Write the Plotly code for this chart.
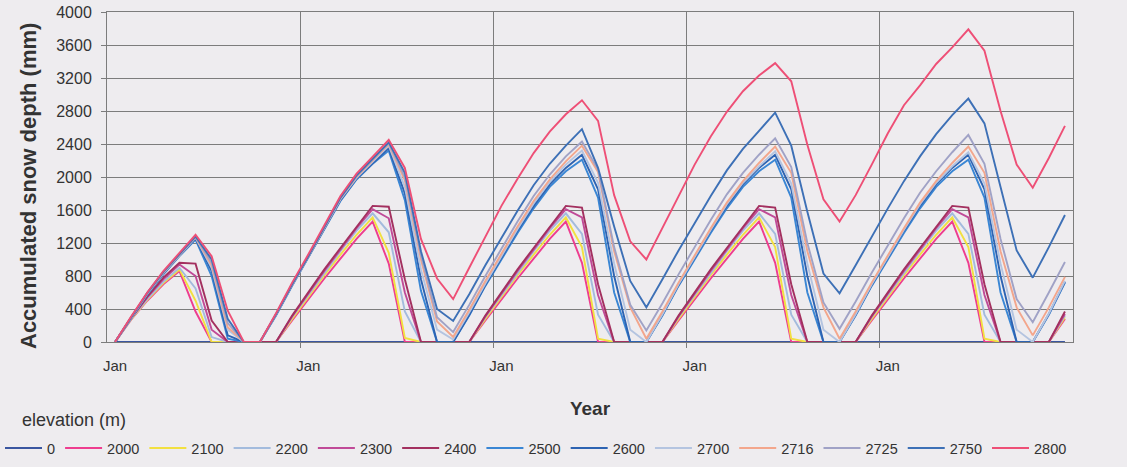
import plotly.graph_objects as go

# Month index from the first January (five years of monthly values)
month_index = list(range(60))
jan_ticks = [0, 12, 24, 36, 48]
jan_labels = ["Jan", "Jan", "Jan", "Jan", "Jan"]

elevations = ["0", "2000", "2100", "2200", "2300", "2400", "2500",
              "2600", "2700", "2716", "2725", "2750", "2800"]

# Accumulated snow depth (mm), one row of twelve months per year
depth_0 = [
    0, 0, 0, 0, 0, 0, 0, 0, 0, 0, 0, 0,
    0, 0, 0, 0, 0, 0, 0, 0, 0, 0, 0, 0,
    0, 0, 0, 0, 0, 0, 0, 0, 0, 0, 0, 0,
    0, 0, 0, 0, 0, 0, 0, 0, 0, 0, 0, 0,
    0, 0, 0, 0, 0, 0, 0, 0, 0, 0, 0, 0,
]
depth_2000 = [
    0, 270, 500, 700, 860, 370, 0, 0, 0, 0, 0, 260,
    520, 770, 1010, 1250, 1460, 950, 0, 0, 0, 0, 0, 260,
    520, 770, 1010, 1250, 1460, 960, 0, 0, 0, 0, 0, 260,
    520, 770, 1010, 1250, 1460, 960, 0, 0, 0, 0, 0, 260,
    520, 770, 1010, 1250, 1460, 960, 0, 0, 0, 0, 0, 280,
]
depth_2100 = [
    0, 275, 510, 715, 880, 500, 0, 0, 0, 0, 0, 280,
    550, 810, 1060, 1300, 1510, 1080, 50, 0, 0, 0, 0, 280,
    550, 810, 1060, 1300, 1510, 1150, 40, 0, 0, 0, 0, 280,
    550, 810, 1060, 1300, 1510, 1150, 40, 0, 0, 0, 0, 280,
    550, 810, 1060, 1300, 1510, 1150, 40, 0, 0, 0, 0, 300,
]
depth_2200 = [
    0, 280, 520, 730, 900, 650, 60, 0, 0, 0, 0, 300,
    570, 840, 1100, 1350, 1560, 1330, 370, 0, 0, 0, 0, 300,
    570, 840, 1100, 1350, 1560, 1310, 330, 0, 0, 0, 0, 300,
    570, 840, 1100, 1350, 1560, 1310, 330, 0, 0, 0, 0, 300,
    570, 840, 1100, 1350, 1560, 1310, 330, 0, 0, 0, 0, 320,
]
depth_2300 = [
    0, 285, 540, 760, 940, 800, 150, 0, 0, 0, 0, 310,
    590, 860, 1120, 1380, 1610, 1500, 600, 0, 0, 0, 0, 310,
    590, 860, 1120, 1380, 1610, 1510, 570, 0, 0, 0, 0, 310,
    590, 860, 1120, 1380, 1610, 1510, 570, 0, 0, 0, 0, 310,
    590, 860, 1120, 1380, 1610, 1510, 570, 0, 0, 0, 0, 340,
]
depth_2400 = [
    0, 290, 550, 780, 960, 950, 260, 0, 0, 0, 0, 320,
    600, 880, 1140, 1400, 1650, 1640, 760, 0, 0, 0, 0, 320,
    600, 880, 1140, 1400, 1650, 1630, 700, 0, 0, 0, 0, 320,
    600, 880, 1140, 1400, 1650, 1630, 700, 0, 0, 0, 0, 320,
    600, 880, 1140, 1400, 1650, 1630, 700, 0, 0, 0, 0, 370,
]
depth_2500 = [
    0, 295, 575, 820, 1040, 1240, 800, 40, 0, 0, 320, 680,
    1020, 1370, 1710, 1970, 2160, 2320, 1720, 620, 0, 0, 320, 680,
    1000, 1320, 1620, 1880, 2070, 2210, 1750, 600, 0, 0, 320, 680,
    1000, 1320, 1620, 1880, 2070, 2210, 1750, 600, 0, 0, 320, 680,
    1000, 1320, 1620, 1880, 2070, 2210, 1750, 600, 0, 0, 330, 720,
]
depth_2600 = [
    0, 300, 580, 830, 1050, 1255, 860, 80, 0, 0, 330, 690,
    1030, 1380, 1720, 1980, 2170, 2350, 1800, 760, 0, 0, 330, 690,
    1020, 1350, 1650, 1910, 2110, 2270, 1850, 800, 0, 0, 330, 690,
    1020, 1350, 1650, 1910, 2110, 2270, 1850, 800, 0, 0, 330, 690,
    1020, 1350, 1650, 1910, 2110, 2270, 1850, 800, 0, 0, 340, 730,
]
depth_2700 = [
    0, 300, 585, 835, 1055, 1265, 900, 150, 0, 0, 335, 695,
    1035, 1385, 1730, 1990, 2180, 2380, 1880, 880, 150, 30, 360, 710,
    1040, 1370, 1680, 1940, 2150, 2320, 1930, 950, 150, 0, 335, 700,
    1030, 1360, 1670, 1930, 2130, 2310, 1920, 950, 150, 0, 335, 700,
    1030, 1360, 1670, 1930, 2130, 2300, 1920, 950, 150, 0, 345, 740,
]
depth_2716 = [
    0, 300, 590, 840, 1060, 1270, 930, 180, 0, 0, 335, 695,
    1035, 1390, 1740, 2000, 2200, 2400, 1960, 1000, 250, 60, 390, 740,
    1070, 1400, 1710, 1970, 2190, 2380, 2060, 1100, 420, 40, 370, 720,
    1050, 1380, 1690, 1950, 2170, 2370, 2050, 1100, 420, 40, 370, 720,
    1050, 1380, 1690, 1950, 2170, 2370, 2050, 1100, 420, 80, 420, 790,
]
depth_2725 = [
    0, 300, 590, 845, 1065, 1275, 960, 230, 0, 0, 335, 695,
    1035, 1395, 1745, 2010, 2210, 2410, 2000, 1050, 300, 120, 450, 800,
    1130, 1460, 1770, 2030, 2250, 2430, 2090, 1150, 450, 140, 470, 820,
    1150, 1480, 1790, 2050, 2270, 2470, 2120, 1200, 480, 160, 490, 840,
    1170, 1500, 1810, 2070, 2300, 2510, 2160, 1250, 520, 240, 600, 970,
]
depth_2750 = [
    0, 305, 595, 850, 1070, 1280, 1000, 280, 0, 0, 340, 700,
    1040, 1400, 1750, 2020, 2220, 2420, 2050, 1100, 400, 255, 580, 930,
    1260, 1590, 1900, 2160, 2380, 2580, 2110, 1400, 740, 420, 760, 1110,
    1440, 1770, 2080, 2340, 2560, 2780, 2380, 1580, 830, 590, 930, 1280,
    1620, 1950, 2250, 2520, 2750, 2950, 2650, 1880, 1110, 780, 1150, 1540,
]
depth_2800 = [
    0, 310, 600, 860, 1080, 1300, 1040, 380, 0, 0, 350, 720,
    1060, 1420, 1770, 2040, 2250, 2450, 2110, 1250, 770, 520, 900, 1280,
    1650, 1980, 2290, 2550, 2760, 2930, 2680, 1780, 1220, 1000, 1390, 1780,
    2150, 2490, 2790, 3040, 3230, 3380, 3160, 2390, 1730, 1460, 1780, 2150,
    2530, 2870, 3110, 3370, 3570, 3790, 3530, 2800, 2150, 1870, 2230, 2620,
]

series_depths = [depth_0, depth_2000, depth_2100, depth_2200, depth_2300,
                 depth_2400, depth_2500, depth_2600, depth_2700, depth_2716,
                 depth_2725, depth_2750, depth_2800]

line_colors = ["#3a56a0", "#ee3d8f", "#f2e040", "#a3bbdd", "#c04a98",
               "#a3305f", "#3a86d4", "#2d63b2", "#b4c4e0", "#f3a68c",
               "#a0a2c6", "#3d70b6", "#ee4f76"]

bg = "#eeecef"
grid = "#7c7c7c"
text_color = "#333333"
font_family = "Liberation Sans, Arial, sans-serif"

# plot area in pixels
left, right, top, bottom = 107, 1073, 12, 342
plot_w, plot_h = right - left, bottom - top

fig = go.Figure()
for name, ys, color in zip(elevations, series_depths, line_colors):
    fig.add_trace(go.Scatter(
        x=month_index, y=ys, name=name, mode="lines",
        line=dict(color=color, width=1.9),
    ))

fig.update_layout(
    width=1127, height=467,
    margin=dict(l=left, r=1127 - right, t=top, b=467 - bottom,
                autoexpand=False),
    paper_bgcolor=bg, plot_bgcolor=bg,
    font=dict(family=font_family, color=text_color),
    showlegend=True,
    legend=dict(
        orientation="h",
        x=-left / plot_w, y=-(432 - bottom) / plot_h,
        xanchor="left", yanchor="top",
        font=dict(size=14.5, color=text_color),
        itemwidth=37,
        bgcolor="rgba(0,0,0,0)",
    ),
    xaxis=dict(
        range=[-0.5, 59.5],
        tickmode="array", tickvals=jan_ticks, ticktext=jan_labels,
        ticks="", showgrid=False, zeroline=False,
        showline=True, linecolor=grid, linewidth=1, mirror=True,
        tickfont=dict(size=15, color=text_color),
        ticklabelstandoff=10,
        minor=dict(tickmode="array", tickvals=[11.5, 23.5, 35.5, 47.5],
                   showgrid=True, gridcolor=grid, gridwidth=1,
                   ticks="outside", ticklen=5, tickcolor=grid),
        title=dict(text="<b>Year</b>", font=dict(size=19, color=text_color),
                   standoff=28),
    ),
    yaxis=dict(
        range=[0, 4000], tick0=0, dtick=400,
        showgrid=True, gridcolor=grid, gridwidth=1, zeroline=False,
        ticks="outside", ticklen=5, tickcolor=grid,
        showline=True, linecolor=grid, linewidth=1, mirror=True,
        tickfont=dict(size=16, color=text_color),
        ticklabelstandoff=6,
    ),
    annotations=[
        dict(
            text="<b>Accumulated snow depth (mm)</b>",
            xref="paper", yref="paper",
            x=(28 - left) / plot_w, y=(bottom - 186) / plot_h,
            xanchor="center", yanchor="middle", textangle=-90,
            showarrow=False, font=dict(size=22, color=text_color),
        ),
        dict(
            text="elevation (m)",
            xref="paper", yref="paper",
            x=(20 - left) / plot_w, y=-(420 - bottom) / plot_h,
            xanchor="left", yanchor="middle",
            showarrow=False, font=dict(size=18, color=text_color),
        ),
    ],
)

fig.write_html("out.html")
